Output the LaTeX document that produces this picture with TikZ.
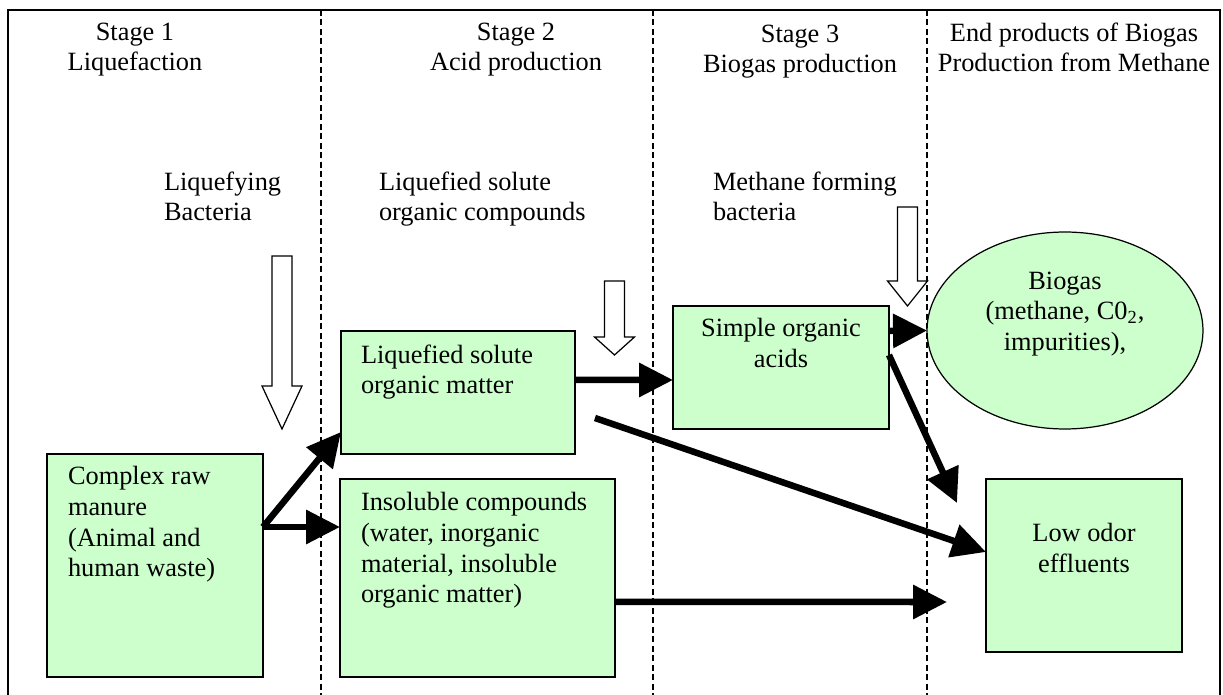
\documentclass[tikz,border=0pt]{standalone}
\usepackage{fontspec}
\setmainfont{Liberation Serif}
\usetikzlibrary{arrows.meta,shapes.geometric}
\definecolor{boxgreen}{HTML}{CCFFCC}

\begin{document}
\begin{tikzpicture}[x=0.02cm, y=-0.02cm,
    every node/.style={font=\fontsize{15}{17.4}\selectfont, inner sep=0pt, outer sep=0pt},
    lbl/.style={align=left, anchor=north west, execute at begin node=\strut},
    clbl/.style={align=center, anchor=north, execute at begin node=\strut},
    greenbox/.style={draw, line width=0.7pt, fill=boxgreen, anchor=north west},
    flow/.style={line width=3.7pt, -{Triangle[length=0.68cm, width=0.66cm]}},
    feed/.style={draw, line width=0.7pt, fill=white, line join=miter},
    divider/.style={line width=0.6pt, dash pattern=on 3.4pt off 2pt}]
        \useasboundingbox (0,0) rectangle (1223,695);

        % Frame and stage dividers
        \draw[line width=0.7pt] (8,695) -- (8,10) -- (1220,10) -- (1220,695);
        \foreach \x in {321,653,927}
            \draw[divider] (\x,10) -- (\x,695);

        % Headings
        \node[clbl] (head1) at (135,22.6) {Stage 1\\Liquefaction};
        \node[clbl] (head2) at (516,22.6) {Stage 2\\Acid production};
        \node[clbl] (head3) at (800,24.6) {Stage 3\\Biogas production};
        \node[clbl] (head4) at (1074,22.6) {End products of Biogas\\Production from Methane};

        % Agents
        \node[lbl] (agent1) at (164,171.6) {Liquefying\\Bacteria};
        \node[lbl] (agent2) at (379,171.6) {Liquefied solute\\organic compounds};
        \node[lbl] (agent3) at (713,171.6) {Methane forming\\bacteria};

        % Feed arrows
        \foreach \cx/\ya/\yb/\yc in {282/256/386/429, 614.5/281/337/355, 907.5/207/281/306}
            \draw[feed] (\cx-10,\ya) -- (\cx+10,\ya) -- (\cx+10,\yb) -- (\cx+20,\yb)
                -- (\cx,\yc) -- (\cx-20,\yb) -- (\cx-10,\yb) -- cycle;

        % Boxes
        \node[greenbox, minimum width=4.32cm, minimum height=4.46cm] (manure) at (47,454) {};
        \node[lbl] (manuretxt) at (68,466.6) {Complex raw\\manure\\(Animal and\\human waste)};

        \node[greenbox, minimum width=4.68cm, minimum height=2.46cm] (solute) at (341,331) {};
        \node[lbl] (solutetxt) at (361,344.6) {Liquefied solute\\organic matter};

        \node[greenbox, minimum width=5.5cm, minimum height=3.96cm] (insol) at (340,479) {};
        \node[lbl] (insoltxt) at (361,492.6) {Insoluble compounds\\(water, inorganic\\material, insoluble\\organic matter)};

        \node[greenbox, minimum width=4.32cm, minimum height=2.46cm] (acids) at (673,306) {};
        \node[clbl] (acidstxt) at (781,318.6) {Simple organic\\acids};

        \node[draw, ellipse, line width=0.7pt, fill=boxgreen, minimum width=5.52cm, minimum height=3.94cm] (biogas) at (1065,330.5) {};
        \node[clbl] (biogastxt) at (1065,271.6) {Biogas\\(methane, C0\textsubscript{2},\\impurities),};

        \node[greenbox, minimum width=3.92cm, minimum height=3.46cm] (effluent) at (986,479) {};
        \node[clbl] (effluenttxt) at (1084,523.6) {Low odor\\effluents};

        % Flow arrows
        \coordinate (split) at (263,527);
        \coordinate (acidsend) at (957,503);
        \coordinate (insolend) at (947,602);
        \draw[flow] (split) -- ([yshift=0.44cm]solute.south west);
        \draw[flow] (split) -- (split -| insol.west);
        \draw[flow] ([yshift=0.25cm]solute.east) -- ([yshift=-0.25cm]acids.west);
        \draw[flow] ([shift={(0.4cm,-0.51cm)}]solute.east) -- ([yshift=0.27cm]effluent.west);
        \draw[flow] ([yshift=-0.48cm]insol.east) -- (insolend);
        \draw[flow] ([yshift=0.25cm]acids.east) -- (acidsend);
        \draw[flow] ([yshift=0.73cm]acids.east) -- (biogas.west);
\end{tikzpicture}
\end{document}
